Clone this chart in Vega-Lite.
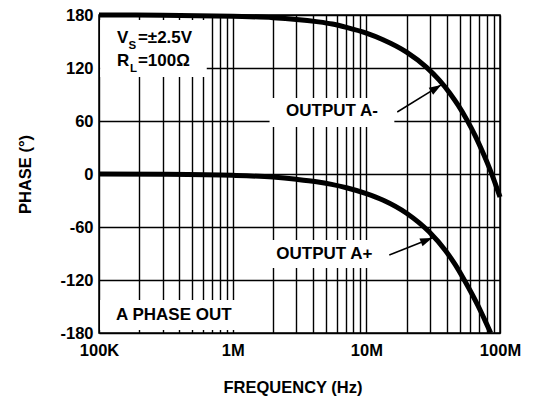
{
  "$schema": "https://vega.github.io/schema/vega-lite/v6.json",
  "width": 401,
  "height": 318,
  "autosize": "none",
  "padding": {"left": 99, "top": 15, "right": 35, "bottom": 67},
  "background": "white",
  "config": {
    "view": {"stroke": "#000", "strokeWidth": 1.5},
    "font": "Liberation Sans"
  },
  "datasets": {
    "curves": [
      {"series": "A-", "f": 100000, "phase": 180},
      {"series": "A-", "f": 300000, "phase": 179.8},
      {"series": "A-", "f": 1000000, "phase": 178.5},
      {"series": "A-", "f": 2000000, "phase": 177},
      {"series": "A-", "f": 3000000, "phase": 175},
      {"series": "A-", "f": 4240000, "phase": 172.5},
      {"series": "A-", "f": 5570000, "phase": 169.8},
      {"series": "A-", "f": 7100000, "phase": 166},
      {"series": "A-", "f": 10000000, "phase": 159.5},
      {"series": "A-", "f": 13200000, "phase": 152.3},
      {"series": "A-", "f": 20000000, "phase": 138},
      {"series": "A-", "f": 28100000, "phase": 121},
      {"series": "A-", "f": 35000000, "phase": 106.5},
      {"series": "A-", "f": 42000000, "phase": 91.8},
      {"series": "A-", "f": 48600000, "phase": 77.9},
      {"series": "A-", "f": 56800000, "phase": 60.7},
      {"series": "A-", "f": 65000000, "phase": 43.8},
      {"series": "A-", "f": 75000000, "phase": 23.2},
      {"series": "A-", "f": 82800000, "phase": 7.8},
      {"series": "A-", "f": 87100000, "phase": -0.7},
      {"series": "A-", "f": 93000000, "phase": -12.5},
      {"series": "A-", "f": 100000000, "phase": -26},
      {"series": "A+", "f": 100000, "phase": 0},
      {"series": "A+", "f": 300000, "phase": -0.3},
      {"series": "A+", "f": 1000000, "phase": -1.5},
      {"series": "A+", "f": 2000000, "phase": -3.5},
      {"series": "A+", "f": 3000000, "phase": -6},
      {"series": "A+", "f": 4240000, "phase": -8.8},
      {"series": "A+", "f": 5500000, "phase": -11.8},
      {"series": "A+", "f": 7100000, "phase": -15.6},
      {"series": "A+", "f": 10000000, "phase": -22.2},
      {"series": "A+", "f": 13400000, "phase": -29.7},
      {"series": "A+", "f": 20000000, "phase": -44.4},
      {"series": "A+", "f": 29500000, "phase": -65.5},
      {"series": "A+", "f": 39300000, "phase": -87.2},
      {"series": "A+", "f": 46000000, "phase": -102.1},
      {"series": "A+", "f": 53900000, "phase": -119.7},
      {"series": "A+", "f": 62000000, "phase": -136.4},
      {"series": "A+", "f": 68000000, "phase": -148.2},
      {"series": "A+", "f": 73500000, "phase": -158.8},
      {"series": "A+", "f": 80000000, "phase": -170.8},
      {"series": "A+", "f": 85200000, "phase": -180}
    ],
    "boxes": [
      {"f1": 102000, "f2": 640000, "p1": 174.4, "p2": 109.8},
      {"f1": 1888000, "f2": 16200000, "p1": 86, "p2": 53.2},
      {"f1": 1644000, "f2": 13600000, "p1": -74.7, "p2": -106.4},
      {"f1": 102000, "f2": 1127000, "p1": -142.7, "p2": -176.6}
    ],
    "notes": [
      {"text": "OUTPUT A-", "f": 5530000, "phase": 70.8},
      {"text": "OUTPUT A+", "f": 4860000, "phase": -90.6},
      {"text": "A PHASE OUT", "f": 362800, "phase": -159.6}
    ],
    "condLeft": [
      {"text": "V", "f": 136250, "phase": 153.5},
      {"text": "=±2.5V", "f": 195400, "phase": 153.5},
      {"text": "R", "f": 136250, "phase": 128},
      {"text": "=100Ω", "f": 195400, "phase": 128}
    ],
    "subs": [
      {"text": "S", "f": 166000, "phase": 145},
      {"text": "L", "f": 170300, "phase": 119}
    ],
    "arrowA-": [{"f0": 17030000, "p0": 70.2, "f": 36300000, "phase": 100.8}],
    "arrowA+": [{"f0": 14850000, "p0": -91.7, "f": 31080000, "phase": -72.5}]
  },
  "layer": [
    {
      "data": {"name": "boxes"},
      "mark": {"type": "rect", "fill": "white", "stroke": null},
      "encoding": {
        "x": {
          "field": "f1", "type": "quantitative",
          "scale": {"type": "log", "domain": [100000, 100000000], "nice": false},
          "axis": {
            "values": [100000,200000,300000,400000,500000,600000,700000,800000,900000,
                       1000000,2000000,3000000,4000000,5000000,6000000,7000000,8000000,9000000,
                       10000000,20000000,30000000,40000000,50000000,60000000,70000000,80000000,90000000,100000000],
            "labelExpr": "datum.value == 100000 ? '100K' : datum.value == 1000000 ? '1M' : datum.value == 10000000 ? '10M' : datum.value == 100000000 ? '100M' : ''",
            "labelOverlap": false,
            "labelFlush": false,
            "grid": true,
            "gridColor": "#000",
            "gridWidth": 1.4,
            "gridOpacity": 1,
            "ticks": false,
            "domain": false,
            "labelFontSize": 16.5,
            "labelFontWeight": "bold",
            "labelColor": "#000",
            "labelPadding": 9,
            "title": "FREQUENCY (Hz)",
            "titleFontSize": 16.5,
            "titleFontWeight": "bold",
            "titleColor": "#000",
            "titleX": 193.5,
            "titleY": 54,
            "titleBaseline": "middle"
          }
        },
        "x2": {"field": "f2"},
        "y": {
          "field": "p1", "type": "quantitative",
          "scale": {"domain": [-180, 180], "nice": false, "zero": false},
          "axis": {
            "values": [-180, -120, -60, 0, 60, 120, 180],
            "labelExpr": "toString(datum.value)",
            "grid": true,
            "gridColor": "#000",
            "gridWidth": 1.4,
            "gridOpacity": 1,
            "ticks": false,
            "domain": false,
            "labelFontSize": 16.5,
            "labelFontWeight": "bold",
            "labelColor": "#000",
            "labelPadding": 6,
            "title": "PHASE (°)",
            "titleFontSize": 16.5,
            "titleFontWeight": "bold",
            "titleColor": "#000",
            "titleX": -74,
            "titleY": 159,
            "titleBaseline": "middle"
          }
        },
        "y2": {"field": "p2"}
      }
    },
    {
      "data": {"name": "curves"},
      "mark": {"type": "line", "color": "#000", "strokeWidth": 5, "interpolate": "monotone", "strokeCap": "butt"},
      "encoding": {
        "x": {"field": "f", "type": "quantitative", "scale": {"type": "log"}},
        "y": {"field": "phase", "type": "quantitative"},
        "detail": {"field": "series"}
      }
    },
    {
      "data": {"name": "notes"},
      "mark": {"type": "text", "fontSize": 17, "fontWeight": "bold", "color": "#000", "align": "center", "baseline": "middle"},
      "encoding": {
        "x": {"field": "f", "type": "quantitative", "scale": {"type": "log"}},
        "y": {"field": "phase", "type": "quantitative"},
        "text": {"field": "text"}
      }
    },
    {
      "data": {"name": "condLeft"},
      "mark": {"type": "text", "fontSize": 17, "fontWeight": "bold", "color": "#000", "align": "left", "baseline": "middle"},
      "encoding": {
        "x": {"field": "f", "type": "quantitative", "scale": {"type": "log"}},
        "y": {"field": "phase", "type": "quantitative"},
        "text": {"field": "text"}
      }
    },
    {
      "data": {"name": "subs"},
      "mark": {"type": "text", "fontSize": 11.5, "fontWeight": "bold", "color": "#000", "align": "left", "baseline": "middle"},
      "encoding": {
        "x": {"field": "f", "type": "quantitative", "scale": {"type": "log"}},
        "y": {"field": "phase", "type": "quantitative"},
        "text": {"field": "text"}
      }
    },
    {
      "data": {"name": "arrowA-"},
      "mark": {"type": "rule", "color": "#000", "strokeWidth": 1.5},
      "encoding": {
        "x": {"field": "f0", "type": "quantitative", "scale": {"type": "log"}},
        "y": {"field": "p0", "type": "quantitative"},
        "x2": {"field": "f"},
        "y2": {"field": "phase"}
      }
    },
    {
      "data": {"name": "arrowA-"},
      "mark": {"type": "point", "shape": "M0,0L-1,-0.35L-1,0.35Z", "filled": true, "color": "#000", "opacity": 1, "size": 576, "angle": 328.5},
      "encoding": {
        "x": {"field": "f", "type": "quantitative", "scale": {"type": "log"}},
        "y": {"field": "phase", "type": "quantitative"}
      }
    },
    {
      "data": {"name": "arrowA+"},
      "mark": {"type": "rule", "color": "#000", "strokeWidth": 1.5},
      "encoding": {
        "x": {"field": "f0", "type": "quantitative", "scale": {"type": "log"}},
        "y": {"field": "p0", "type": "quantitative"},
        "x2": {"field": "f"},
        "y2": {"field": "phase"}
      }
    },
    {
      "data": {"name": "arrowA+"},
      "mark": {"type": "point", "shape": "M0,0L-1,-0.35L-1,0.35Z", "filled": true, "color": "#000", "opacity": 1, "size": 576, "angle": 338.4},
      "encoding": {
        "x": {"field": "f", "type": "quantitative", "scale": {"type": "log"}},
        "y": {"field": "phase", "type": "quantitative"}
      }
    }
  ]
}
